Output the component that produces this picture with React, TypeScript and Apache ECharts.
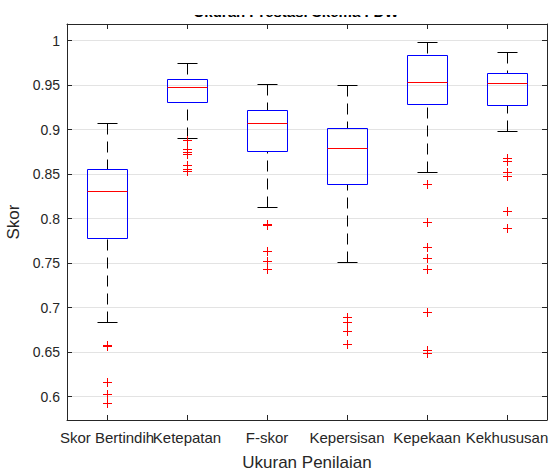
import React, { useEffect, useRef } from 'react';
import * as echarts from 'echarts';

const titleText = 'Ukuran Prestasi Skema FDW';
const categories = ['Skor Bertindih', 'Ketepatan', 'F-skor', 'Kepersisan', 'Kepekaan', 'Kekhususan'];
const whiskerLow = [0.684, 0.891, 0.813, 0.751, 0.852, 0.898];
const q1 = [0.778, 0.931, 0.876, 0.8386, 0.929, 0.928];
const median = [0.8315, 0.948, 0.908, 0.88, 0.954, 0.952];
const q3 = [0.8555, 0.957, 0.922, 0.9016, 0.984, 0.964];
const whiskerHigh = [0.907, 0.975, 0.951, 0.95, 0.999, 0.987];
const outliers = [
  [0.658, 0.657, 0.616, 0.603, 0.593],
  [0.889, 0.878, 0.875, 0.873, 0.86, 0.856, 0.854],
  [0.794, 0.793, 0.764, 0.752, 0.743],
  [0.69, 0.6836, 0.6742, 0.659],
  [0.839, 0.796, 0.768, 0.756, 0.743, 0.695, 0.6525, 0.6495],
  [0.8685, 0.865, 0.852, 0.848, 0.8086, 0.789],
];
const yMin = 0.5738;
const yMax = 1.0188;
const yStep = 0.05;

const FONT = 'Liberation Sans, Arial, Helvetica, sans-serif';
const AX = '#262626';

export default function App() {
  const ref = useRef<HTMLDivElement>(null);
  useEffect(() => {
    const chart = echarts.init(ref.current!, null, { renderer: 'svg' });
    const boxData = categories.map((_, i) => [i, whiskerLow[i], q1[i], median[i], q3[i], whiskerHigh[i]]);
    const outData: number[][] = [];
    outliers.forEach((arr, i) => arr.forEach((v) => outData.push([i, v])));
    const h = (v: number) => Math.round(v) + 0.5;
    const fmt = (v: number) => {
      const r = Math.round(v / yStep);
      return Math.abs(v - r * yStep) < 1e-6 ? String(+(r * yStep).toFixed(2)) : '';
    };
    const tick = { show: true, inside: true, length: 5, interval: 0, alignWithLabel: true, lineStyle: { color: AX } };
    const line = { show: true, lineStyle: { color: AX, width: 1 } };
    chart.setOption({
      animation: false,
      textStyle: { fontFamily: FONT },
      grid: { left: 67, right: 6, top: 24, bottom: 51, containLabel: false, outerBoundsMode: 'none' },
      graphic: [
        {
          type: 'text', x: 296, y: 19, z: 50,
          style: { text: titleText, font: 'bold 15px ' + FONT, fill: '#000', textAlign: 'center', textVerticalAlign: 'bottom' },
        },
        { type: 'rect', z: 60, shape: { x: 0, y: 0, width: 553, height: 15 }, style: { fill: '#fff' } },
      ],
      xAxis: [
        {
          type: 'category', data: categories, position: 'bottom', boundaryGap: true,
          axisLine: line, axisTick: tick,
          axisLabel: { interval: 0, fontSize: 15, color: AX, margin: 10, fontFamily: FONT },
          splitLine: { show: false },
          name: 'Ukuran Penilaian', nameLocation: 'middle', nameGap: 34,
          nameTextStyle: { fontSize: 17, color: AX, fontFamily: FONT },
        },
        {
          type: 'category', data: categories, position: 'top', boundaryGap: true,
          axisLine: line, axisTick: tick, axisLabel: { show: false }, splitLine: { show: false },
        },
      ],
      yAxis: [
        {
          type: 'value', min: yMin, max: yMax, minInterval: yStep, maxInterval: yStep, splitNumber: 9,
          position: 'left', axisLine: line, axisTick: { show: true, inside: true, length: 5, lineStyle: { color: AX } },
          axisLabel: { fontSize: 14, color: AX, margin: 7, formatter: fmt, fontFamily: FONT },
          splitLine: { show: true, lineStyle: { color: '#e3e3e3', width: 1 } },
          name: 'Skor', nameLocation: 'middle', nameGap: 40,
          nameTextStyle: { fontSize: 17, color: AX, fontFamily: FONT },
        },
        {
          type: 'value', min: yMin, max: yMax, minInterval: yStep, maxInterval: yStep, splitNumber: 9,
          position: 'right', axisLine: line, axisTick: { show: true, inside: true, length: 5, lineStyle: { color: AX } },
          axisLabel: { show: false }, splitLine: { show: false },
        },
      ],
      series: [
        {
          type: 'custom', xAxisIndex: 0, yAxisIndex: 0, data: boxData,
          encode: { x: 0, y: [1, 2, 3, 4, 5] },
          renderItem: (params: any, api: any) => {
            const i = api.value(0);
            const c = (v: number) => api.coord([i, v]);
            const bw = api.size([1, 0])[0] * 0.5;
            const cx = c(api.value(3))[0];
            const yLo = h(c(api.value(1))[1]);
            const yQ1 = h(c(api.value(2))[1]);
            const yMed = h(c(api.value(3))[1]);
            const yQ3 = h(c(api.value(4))[1]);
            const yHi = h(c(api.value(5))[1]);
            const L = h(cx - bw / 2);
            const R = h(cx + bw / 2);
            const xc = h(cx);
            const cw = bw / 4;
            const dash = { stroke: '#000', lineWidth: 1, lineDash: [11, 7], fill: null };
            const solid = { stroke: '#000', lineWidth: 1 };
            return {
              type: 'group',
              children: [
                { type: 'line', shape: { x1: xc, y1: yHi, x2: xc, y2: yQ3 }, style: dash },
                { type: 'line', shape: { x1: xc, y1: yLo, x2: xc, y2: yQ1 }, style: dash },
                { type: 'line', shape: { x1: h(cx - cw), y1: yHi, x2: h(cx + cw), y2: yHi }, style: solid },
                { type: 'line', shape: { x1: h(cx - cw), y1: yLo, x2: h(cx + cw), y2: yLo }, style: solid },
                { type: 'rect', shape: { x: L, y: yQ3, width: R - L, height: yQ1 - yQ3 }, style: { fill: 'none', stroke: '#0000ff', lineWidth: 1 } },
                { type: 'line', shape: { x1: L, y1: yMed, x2: R, y2: yMed }, style: { stroke: '#ff0000', lineWidth: 1 } },
              ],
            };
          },
        },
        {
          type: 'custom', xAxisIndex: 0, yAxisIndex: 0, data: outData,
          encode: { x: 0, y: 1 },
          renderItem: (params: any, api: any) => {
            const p = api.coord([api.value(0), api.value(1)]);
            const x = h(p[0]);
            const y = h(p[1]);
            const st = { stroke: '#ff0000', lineWidth: 1 };
            return {
              type: 'group',
              children: [
                { type: 'line', shape: { x1: x - 4.5, y1: y, x2: x + 4.5, y2: y }, style: st },
                { type: 'line', shape: { x1: x, y1: y - 4.5, x2: x, y2: y + 4.5 }, style: st },
              ],
            };
          },
        },
      ],
    });
    return () => chart.dispose();
  }, []);
  return <div ref={ref} style={{ position: 'absolute', left: 0, top: 0, width: 553, height: 471 }} />;
}
